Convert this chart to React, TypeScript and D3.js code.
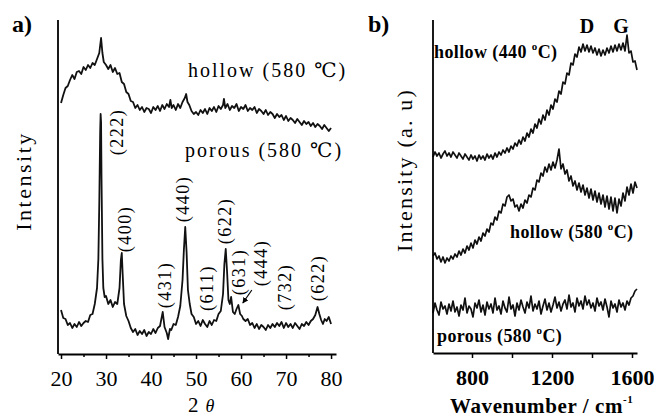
import React, { useRef, useEffect } from 'react';
import * as d3 from 'd3';

// a) XRD patterns, [2θ, intensity a.u.]
const xrdHollow: [number, number][] = [
  [20,251],[20.5,259],[21,266],[21.5,268],[22,274],[22.5,279],[23,275],[23.5,282],[24,283],[24.5,280],
  [25,287],[25.5,284],[26,289],[26.5,286],[27,291],[27.5,289],[28,295],[28.5,301],[28.9,316],[29.2,301],
  [29.5,292],[30,289],[30.5,285],[31,289],[31.5,282],[32,286],[32.5,280],[33,281],[33.5,272],[34,270],
  [34.5,262],[35,260],[35.5,253],[36,252],[36.5,246],[37,249],[37.5,244],[38,247],[38.5,242],[39,246],
  [39.5,245],[40,241],[40.5,247],[41,244],[41.5,248],[42,243],[42.5,249],[43,245],[43.5,250],[44,247],
  [44.3,254],[44.6,246],[45,249],[45.5,244],[46,250],[46.5,246],[47,252],[47.5,256],[47.8,260],[48.1,252],
  [48.5,249],[49,243],[49.5,240],[50,242],[50.5,239],[51,244],[51.5,241],[52,245],[52.5,240],[53,246],
  [53.5,243],[54,247],[54.5,242],[55,248],[55.5,245],[56,249],[56.2,255],[56.5,246],[57,250],[57.5,244],
  [58,248],[58.5,246],[59,250],[59.5,243],[60,247],[60.5,245],[61,249],[61.5,243],[62,246],[62.5,244],
  [63,247],[63.5,241],[64,245],[64.5,243],[65,240],[65.5,244],[66,239],[66.5,242],[67,240],[67.5,236],
  [68,240],[68.5,237],[69,239],[69.5,234],[70,238],[70.5,233],[71,236],[71.5,234],[72,231],[72.5,235],
  [73,232],[73.5,229],[74,233],[74.5,230],[75,232],[75.5,228],[76,231],[76.5,227],[77,230],[77.5,228],
  [78,225],[78.5,229],[79,226],[79.5,223],[80,226],
];

const xrdPorous: [number, number][] = [
  [20,44],[20.5,36],[21,35],[21.5,29],[22,31],[22.5,26],[23,30],[23.5,27],[24,32],[24.5,28],
  [25,31],[25.5,33],[26,32],[26.5,39],[27,40],[27.5,50],[28,66],[28.3,95],[28.5,150],[28.7,222],
  [28.8,240],[28.9,232],[29,176],[29.2,95],[29.4,66],[29.7,57],[30,58],[30.5,50],[31,54],[31.5,47],
  [32,52],[32.5,50],[33,66],[33.3,94],[33.5,101],[33.7,80],[34,50],[34.5,38],[35,33],[35.5,26],
  [36,22],[36.5,25],[37,19],[37.5,23],[38,20],[38.5,24],[39,18],[39.5,22],[40,20],[40.5,25],
  [41,21],[41.5,26],[42,28],[42.6,42],[43,27],[43.5,21],[43.8,15],[44.2,25],[44.5,24],[45,30],
  [45.5,29],[46,37],[46.5,48],[47,74],[47.3,104],[47.6,127],[47.9,102],[48.2,64],[48.6,50],[49,40],
  [49.5,37],[50,30],[50.5,33],[51,28],[51.5,34],[52,30],[52.5,27],[53,33],[53.5,29],[54,34],
  [54.5,33],[55,40],[55.5,43],[56,60],[56.3,90],[56.6,105],[56.9,82],[57.2,54],[57.5,50],[57.8,57],
  [58.2,42],[58.6,40],[59,45],[59.4,49],[59.8,40],[60.2,38],[60.5,35],[61,33],[61.5,35],[62,29],
  [62.5,31],[63,26],[63.5,30],[64,25],[64.5,29],[65,27],[65.5,24],[66,29],[66.5,26],[67,30],
  [67.5,27],[68,31],[68.5,28],[69,32],[69.5,26],[70,31],[70.5,27],[71,30],[71.5,26],[72,31],
  [72.5,28],[73,25],[73.5,30],[74,28],[74.5,32],[75,29],[75.5,33],[76,35],[76.5,39],[77,47],
  [77.4,40],[77.8,34],[78.2,30],[78.6,35],[79,33],[79.5,37],[80,30],
];

const xrdTicks = [20, 30, 40, 50, 60, 70, 80];
const xrdMinorTicks = [25, 35, 45, 55, 65, 75];

// hkl labels and where they sit (2θ, intensity)
const peakNames = ['(222)', '(400)', '(431)', '(440)', '(611)', '(622)', '(631)', '(444)', '(732)', '(622)'];
const peakSpots: [number, number][] = [
  [32.4, 222], [34.2, 125], [43.1, 69], [47.1, 155], [52.4, 66],
  [56.4, 133], [59.6, 82], [64.4, 91], [69.8, 67], [77.1, 76],
];
// arrow from the (444) label down to its peak
const peakArrow: [number, number][] = [[62.4, 64], [60.4, 51]];

// b) Raman spectra, wavenumber / cm-1
const wavenumbers = [
  605,615,625,635,645,655,665,675,685,695,705,715,725,735,745,755,765,775,785,795,
  805,815,825,835,845,855,865,875,885,895,905,915,925,935,945,955,965,975,985,995,
  1005,1015,1025,1035,1045,1055,1065,1075,1085,1095,1105,1115,1125,1135,1145,1155,1165,1175,1185,1195,
  1205,1215,1225,1235,1245,1255,1265,1275,1285,1295,1305,1315,1325,1335,1345,1355,1365,1375,1385,1395,
  1405,1415,1425,1435,1445,1455,1465,1475,1485,1495,1505,1515,1525,1535,1545,1555,1565,1575,1585,1595,
  1605,1615,1625,
];

const ramanHollow440 = [
  196,201,197,200,195,199,202,197,200,196,201,198,195,200,197,194,199,196,193,198,
  194,197,192,198,194,197,193,199,195,198,194,200,196,201,198,203,200,205,201,207,
  204,210,207,213,209,216,212,220,216,224,220,229,225,234,229,238,233,243,238,248,
  244,254,251,262,259,271,269,280,278,290,288,299,296,306,301,309,302,308,301,307,
  300,305,298,304,297,303,298,305,300,307,301,308,302,309,303,310,302,318,300,302,
  291,292,283,
];

const ramanHollow580 = [
  97,100,94,97,91,96,90,95,92,97,94,99,96,102,98,104,100,107,103,110,
  105,113,109,116,112,120,117,124,121,130,128,136,133,142,140,149,147,156,158,152,
  154,146,148,142,149,145,153,150,158,156,165,163,173,171,180,177,186,181,189,183,
  191,185,193,204,184,189,179,183,172,177,167,172,163,170,161,168,158,165,155,164,
  153,162,151,160,149,158,146,157,144,156,142,155,140,154,147,160,152,166,158,169,
  160,171,165,
];

const ramanPorous = [
  40,50,43,38,51,44,47,39,49,42,52,41,46,37,48,43,55,40,47,44,
  36,50,45,53,41,48,38,51,44,49,40,55,43,47,39,52,45,41,56,44,
  48,37,50,43,53,46,40,51,45,57,42,49,44,52,39,47,54,43,50,41,
  48,56,45,51,42,49,53,44,58,46,50,41,55,47,52,44,57,48,53,45,
  50,42,55,47,51,43,54,46,36,52,45,49,41,53,46,50,43,52,48,55,
  57,62,64,
];

const ramanTicks = [800, 1000, 1200, 1400, 1600];
const ramanLabelled = [800, 1200, 1600];

const SERIF = "'Liberation Serif', 'DejaVu Serif', serif";

const App = () => {
  const chartRef = useRef<HTMLDivElement>(null);

  useEffect(() => {
    const root = d3.select(chartRef.current);
    root.selectAll('*').remove();

    const svg = root.append('svg')
      .attr('width', 654)
      .attr('height', 418)
      .style('display', 'block')
      .style('background', '#fff');

    // ---------- panel a ----------
    const ax = d3.scaleLinear().domain([19.33, 81.1]).range([58, 336]);
    const ay = d3.scaleLinear().domain([0, 334]).range([354, 20]);

    const lineA = d3.line<[number, number]>()
      .x(d => ax(d[0]))
      .y(d => ay(d[1]));

    [xrdHollow, xrdPorous].forEach(series => {
      svg.append('path')
        .datum(series)
        .attr('d', lineA)
        .attr('fill', 'none')
        .attr('stroke', '#111')
        .attr('stroke-width', 1.8)
        .attr('stroke-linejoin', 'round');
    });

    // left axis line
    svg.append('line')
      .attr('x1', 58).attr('x2', 58)
      .attr('y1', 20).attr('y2', 354)
      .attr('stroke', '#000').attr('stroke-width', 1.8);

    const axisA = svg.append('g')
      .attr('transform', 'translate(0,354)')
      .call(d3.axisBottom(ax).tickValues(xrdTicks).tickSize(5).tickSizeOuter(0).tickPadding(11));
    axisA.select('.domain').attr('stroke-width', 1.8);
    axisA.selectAll('.tick line').attr('stroke-width', 1.5);
    axisA.selectAll('text')
      .attr('font-family', SERIF)
      .attr('font-size', 22)
      .attr('fill', '#000');

    svg.append('g')
      .attr('transform', 'translate(0,354)')
      .call(d3.axisBottom(ax).tickValues(xrdMinorTicks).tickSize(3).tickFormat(() => ''))
      .call(g => g.select('.domain').remove())
      .selectAll('.tick line').attr('stroke-width', 1.5);

    // peak labels
    peakNames.forEach((name, i) => {
      const [t, v] = peakSpots[i];
      svg.append('text')
        .attr('transform', `translate(${ax(t)},${ay(v)}) rotate(-90)`)
        .attr('text-anchor', 'middle')
        .attr('dominant-baseline', 'central')
        .attr('font-family', SERIF)
        .attr('font-size', 18)
        .attr('letter-spacing', 1.5)
        .text(name);
    });

    svg.append('defs').append('marker')
      .attr('id', 'arrowHead')
      .attr('viewBox', '0 0 10 10')
      .attr('refX', 9).attr('refY', 5)
      .attr('markerWidth', 5).attr('markerHeight', 5)
      .attr('orient', 'auto')
      .append('path').attr('d', 'M0,0L10,5L0,10z').attr('fill', '#000');

    svg.append('line')
      .attr('x1', ax(peakArrow[0][0])).attr('y1', ay(peakArrow[0][1]))
      .attr('x2', ax(peakArrow[1][0])).attr('y2', ay(peakArrow[1][1]))
      .attr('stroke', '#000').attr('stroke-width', 1.2)
      .attr('marker-end', 'url(#arrowHead)');

    const aText = (x: number, y: number, s: string) =>
      svg.append('text')
        .attr('x', x).attr('y', y)
        .attr('font-family', SERIF)
        .attr('font-size', 20)
        .attr('letter-spacing', 2)
        .text(s);
    aText(188, 77, 'hollow (580 ℃)');
    aText(185, 157, 'porous (580 ℃)');

    svg.append('text')
      .attr('transform', 'translate(31,181) rotate(-90)')
      .attr('text-anchor', 'middle')
      .attr('font-family', SERIF)
      .attr('font-size', 22)
      .attr('letter-spacing', 2.5)
      .text('Intensity');

    const xa = svg.append('text')
      .attr('x', 188).attr('y', 412)
      .attr('font-family', SERIF)
      .attr('font-size', 21);
    xa.append('tspan').text('2');
    xa.append('tspan').attr('dx', 7).attr('font-style', 'italic').attr('font-size', 18).text('θ');

    svg.append('text')
      .attr('x', 12).attr('y', 32)
      .attr('font-family', SERIF)
      .attr('font-weight', 'bold')
      .attr('font-size', 24)
      .text('a)');

    // ---------- panel b ----------
    const bx = d3.scaleLinear().domain([605, 1625]).range([433, 637]);
    const by = d3.scaleLinear().domain([0, 335]).range([353, 18]);

    const lineB = d3.line<number>()
      .x((_, i) => bx(wavenumbers[i]))
      .y(d => by(d));

    [ramanHollow440, ramanHollow580, ramanPorous].forEach(series => {
      svg.append('path')
        .datum(series)
        .attr('d', lineB)
        .attr('fill', 'none')
        .attr('stroke', '#111')
        .attr('stroke-width', 1.7)
        .attr('stroke-linejoin', 'round');
    });

    svg.append('line')
      .attr('x1', 433).attr('x2', 433)
      .attr('y1', 20).attr('y2', 353)
      .attr('stroke', '#000').attr('stroke-width', 1.8);

    const axisB = svg.append('g')
      .attr('transform', 'translate(0,353)')
      .call(d3.axisBottom(bx)
        .tickValues(ramanTicks)
        .tickSize(5)
        .tickSizeOuter(0)
        .tickPadding(11)
        .tickFormat(d => (ramanLabelled.includes(+d) ? String(d) : '')));
    axisB.select('.domain').attr('stroke-width', 1.8);
    axisB.selectAll('.tick line').attr('stroke-width', 1.5);
    axisB.selectAll('text')
      .attr('font-family', SERIF)
      .attr('font-weight', 'bold')
      .attr('font-size', 22)
      .attr('fill', '#000');

    const degLabel = (x: number, y: number, name: string, temp: string) => {
      const t = svg.append('text')
        .attr('x', x).attr('y', y)
        .attr('font-family', SERIF)
        .attr('font-weight', 'bold')
        .attr('font-size', 18)
        .attr('letter-spacing', 0.4);
      t.append('tspan').text(`${name} (${temp} `);
      t.append('tspan').attr('font-size', 11).attr('dy', -8).text('o');
      t.append('tspan').attr('dy', 8).text('C)');
    };
    degLabel(434, 58, 'hollow', '440');
    degLabel(510, 238, 'hollow', '580');
    degLabel(437, 342, 'porous', '580');

    [['D', 1375], ['G', 1545]].forEach(([s, w]) => {
      svg.append('text')
        .attr('x', bx(w as number)).attr('y', 33)
        .attr('text-anchor', 'middle')
        .attr('font-family', SERIF)
        .attr('font-weight', 'bold')
        .attr('font-size', 20)
        .text(s as string);
    });

    svg.append('text')
      .attr('transform', 'translate(412,170) rotate(-90)')
      .attr('text-anchor', 'middle')
      .attr('font-family', SERIF)
      .attr('font-size', 22)
      .attr('letter-spacing', 2.2)
      .text('Intensity (a. u)');

    const xb = svg.append('text')
      .attr('x', 450).attr('y', 413)
      .attr('font-family', SERIF)
      .attr('font-weight', 'bold')
      .attr('font-size', 21)
      .attr('letter-spacing', 0.6);
    xb.append('tspan').text('Wavenumber / cm');
    xb.append('tspan').attr('font-size', 11).attr('dy', -10).text('-1');

    svg.append('text')
      .attr('x', 368).attr('y', 32)
      .attr('font-family', SERIF)
      .attr('font-weight', 'bold')
      .attr('font-size', 24)
      .text('b)');
  }, []);

  return <div ref={chartRef} style={{ position: 'absolute', left: 0, top: 0 }}></div>;
};

export default App;
